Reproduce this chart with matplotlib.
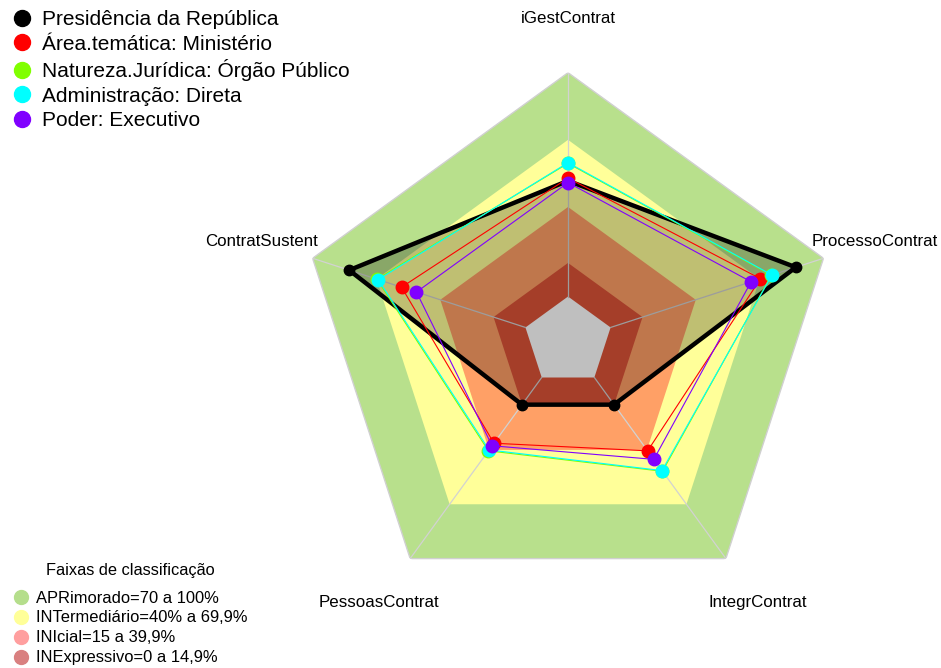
import numpy as np
import matplotlib
matplotlib.use("Agg")
import matplotlib.pyplot as plt
from matplotlib.lines import Line2D

plt.rcParams['font.family'] = ['Liberation Sans', 'DejaVu Sans']

# eixos do radar (sentido horario a partir do topo)
eixos = ['iGestContrat', 'ProcessoContrat', 'IntegrContrat', 'PessoasContrat', 'ContratSustent']

# series
presidencia = [51.7, 87.0, 15.0, 15.0, 82.8]
area_tematica = [52.9, 70.4, 40.5, 36.3, 58.2]
natureza = [59.5, 75.5, 51.8, 40.5, 69.8]
administracao = [59.8, 75.8, 51.4, 40.0, 69.2]
poder = [50.9, 66.0, 45.2, 37.7, 51.2]

nomes = ['Presidência da República', 'Área.temática: Ministério',
         'Natureza.Jurídica: Órgão Público', 'Administração: Direta', 'Poder: Executivo']
cores = ['black', '#ff0000', '#80ff00', '#00ffff', '#8000ff']

# faixas de classificacao
faixas_lim = [100, 70, 40, 15]
faixas_cor = ['#b8e08c', '#ffff99', '#ffa066', '#dd5338']
faixas_nome = ['APRimorado=70 a 100%', 'INTermediário=40% a 69,9%',
               'INIcial=15 a 39,9%', 'INExpressivo=0 a 14,9%']
faixas_leg_cor = ['#b5de8c', '#ffff99', '#ff9f9f', '#d98080']

n = len(eixos)
ang = np.linspace(0, 2 * np.pi, n, endpoint=False)
ang_f = np.append(ang, ang[0])

fig = plt.figure(figsize=(9.41, 6.68), dpi=100)
ax = fig.add_axes([0.3182, 0.0870, 0.5709, 0.8042], polar=True)
ax.set_theta_offset(np.pi / 2)
ax.set_theta_direction(-1)
ax.set_ylim(-20, 100)
ax.axis('off')

for lim, cor in zip(faixas_lim, faixas_cor):
    ax.fill(ang_f, [lim] * (n + 1), color=cor, lw=0, zorder=1)
ax.plot(ang_f, [100] * (n + 1), color='#d0d0d0', lw=1, zorder=2)
ax.fill(ang_f, [0] * (n + 1), color='white', lw=0, zorder=1)
for a in ang:
    ax.plot([a, a], [0, 100], color='#d2d2d2', lw=0.9, zorder=2)

series = [presidencia, area_tematica, natureza, administracao, poder]
ax.fill(ang_f, presidencia + presidencia[:1], color='black', alpha=0.25, lw=0, zorder=3)
for k, (vals, cor) in enumerate(zip(series, cores)):
    v = vals + vals[:1]
    if k == 0:
        ax.plot(ang_f, v, color=cor, lw=3.2, zorder=4)
        ax.plot(ang, vals, 'o', color=cor, ms=7.5, zorder=4)
    else:
        ax.plot(ang_f, v, color=cor, lw=0.8, zorder=4 + k)
        ax.plot(ang, vals, 'o', color=cor, ms=9, zorder=4 + k)

for a, nome in zip(ang, eixos):
    ax.text(a, 124, nome, ha='center', va='center', fontsize=12.2, clip_on=False)

h1 = [Line2D([], [], marker='o', ls='', color=c, ms=11.5) for c in cores]
fig.legend(h1, nomes, loc='upper left', bbox_to_anchor=(0.0035, 0.997), frameon=False,
           fontsize=15, handlelength=1.0, handletextpad=0.46, labelspacing=0.26,
           borderaxespad=0)

h2 = [Line2D([], [], marker='o', ls='', color=c, ms=10) for c in faixas_leg_cor]
fig.legend(h2, faixas_nome, loc='lower left', bbox_to_anchor=(0.006, -0.006), frameon=False,
           fontsize=11.9, handlelength=1.0, handletextpad=0.44, labelspacing=0.3,
           borderaxespad=0)
fig.text(130 / 941, 1 - 571 / 668, 'Faixas de classificação', ha='center', va='center',
         fontsize=11.8)

fig.savefig('out.png', dpi=100)
